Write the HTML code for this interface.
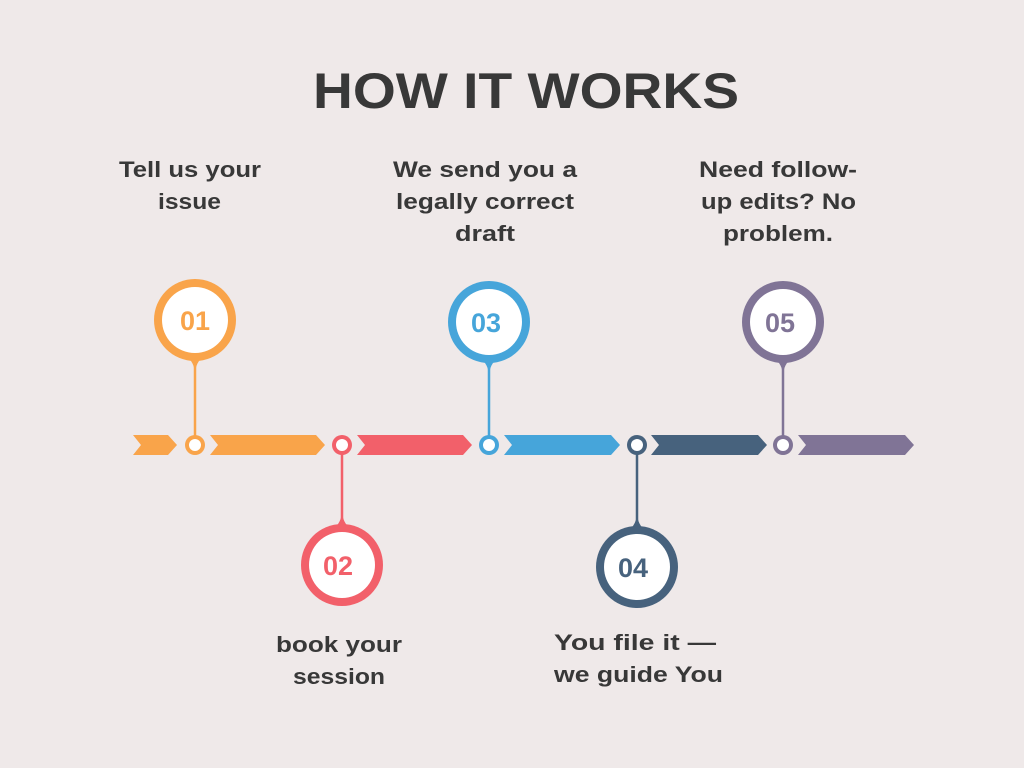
<!DOCTYPE html>
<html><head><meta charset="utf-8"><style>
html,body{margin:0;padding:0;background:#EFE9E9;}
svg{display:block}
text{font-family:"Liberation Sans",sans-serif;font-weight:bold;}
</style></head><body>
<svg width="1024" height="768" viewBox="0 0 1024 768" xmlns="http://www.w3.org/2000/svg">
<rect width="1024" height="768" fill="#EFE9E9"/>
<text x="313" y="108" font-size="50" fill="#383838" textLength="426" lengthAdjust="spacingAndGlyphs">HOW IT WORKS</text>
<g font-size="22" fill="#383838" lengthAdjust="spacingAndGlyphs">
<text x="119" y="177" textLength="142" lengthAdjust="spacingAndGlyphs">Tell us your</text><text x="158" y="209" textLength="63" lengthAdjust="spacingAndGlyphs">issue</text>
<text x="393" y="177" textLength="184" lengthAdjust="spacingAndGlyphs">We send you a</text><text x="396" y="209" textLength="178" lengthAdjust="spacingAndGlyphs">legally correct</text><text x="455" y="241" textLength="60" lengthAdjust="spacingAndGlyphs">draft</text>
<text x="699" y="177" textLength="158" lengthAdjust="spacingAndGlyphs">Need follow-</text><text x="701" y="209" textLength="155" lengthAdjust="spacingAndGlyphs">up edits? No</text><text x="723" y="241" textLength="110" lengthAdjust="spacingAndGlyphs">problem.</text>
<text x="276" y="652" textLength="126" lengthAdjust="spacingAndGlyphs">book your</text><text x="293" y="684" textLength="92" lengthAdjust="spacingAndGlyphs">session</text>
<text x="554" y="650" textLength="162" lengthAdjust="spacingAndGlyphs">You file it —</text><text x="554" y="682" textLength="169" lengthAdjust="spacingAndGlyphs">we guide You</text>
</g>
<g>
<polygon points="133,435 168,435 177,445 168,455 133,455 141,445" fill="#F9A44A"/>
<polygon points="210,435 316,435 325,445 316,455 210,455 218,445" fill="#F9A44A"/>
<polygon points="357,435 463,435 472,445 463,455 357,455 365,445" fill="#F2606A"/>
<polygon points="504,435 611,435 620,445 611,455 504,455 512,445" fill="#46A5DA"/>
<polygon points="651,435 758,435 767,445 758,455 651,455 659,445" fill="#47627D"/>
<polygon points="798,435 905,435 914,445 905,455 798,455 806,445" fill="#807496"/>
</g>
<g>
<line x1="195" y1="355" x2="195" y2="440" stroke="#F9A44A" stroke-width="2.5"/>
<path d="M185,355 Q195,362 195,375 Q195,362 205,355 Z" fill="#F9A44A"/>
<circle cx="195" cy="320" r="41" fill="#F9A44A"/><circle cx="195" cy="320" r="33" fill="#fff"/>
<text x="195" y="330" font-size="27" fill="#F9A44A" text-anchor="middle">01</text>
<circle cx="195" cy="445" r="10" fill="#F9A44A"/><circle cx="195" cy="445" r="6" fill="#fff"/>

<line x1="342" y1="450" x2="342" y2="535" stroke="#F2606A" stroke-width="2.5"/>
<path d="M332,530 Q342,523 342,510 Q342,523 352,530 Z" fill="#F2606A"/>
<circle cx="342" cy="565" r="41" fill="#F2606A"/><circle cx="342" cy="565" r="33" fill="#fff"/>
<text x="338" y="575" font-size="27" fill="#F2606A" text-anchor="middle">02</text>
<circle cx="342" cy="445" r="10" fill="#F2606A"/><circle cx="342" cy="445" r="6" fill="#fff"/>

<line x1="489" y1="355" x2="489" y2="440" stroke="#46A5DA" stroke-width="2.5"/>
<path d="M479,357 Q489,364 489,377 Q489,364 499,357 Z" fill="#46A5DA"/>
<circle cx="489" cy="322" r="41" fill="#46A5DA"/><circle cx="489" cy="322" r="33" fill="#fff"/>
<text x="486" y="332" font-size="27" fill="#46A5DA" text-anchor="middle">03</text>
<circle cx="489" cy="445" r="10" fill="#46A5DA"/><circle cx="489" cy="445" r="6" fill="#fff"/>

<line x1="637" y1="450" x2="637" y2="535" stroke="#47627D" stroke-width="2.5"/>
<path d="M627,532 Q637,525 637,512 Q637,525 647,532 Z" fill="#47627D"/>
<circle cx="637" cy="567" r="41" fill="#47627D"/><circle cx="637" cy="567" r="33" fill="#fff"/>
<text x="633" y="577" font-size="27" fill="#47627D" text-anchor="middle">04</text>
<circle cx="637" cy="445" r="10" fill="#47627D"/><circle cx="637" cy="445" r="6" fill="#fff"/>

<line x1="783" y1="355" x2="783" y2="440" stroke="#807496" stroke-width="2.5"/>
<path d="M773,357 Q783,364 783,377 Q783,364 793,357 Z" fill="#807496"/>
<circle cx="783" cy="322" r="41" fill="#807496"/><circle cx="783" cy="322" r="33" fill="#fff"/>
<text x="780" y="332" font-size="27" fill="#807496" text-anchor="middle">05</text>
<circle cx="783" cy="445" r="10" fill="#807496"/><circle cx="783" cy="445" r="6" fill="#fff"/>
</g>
</svg>
</body></html>
